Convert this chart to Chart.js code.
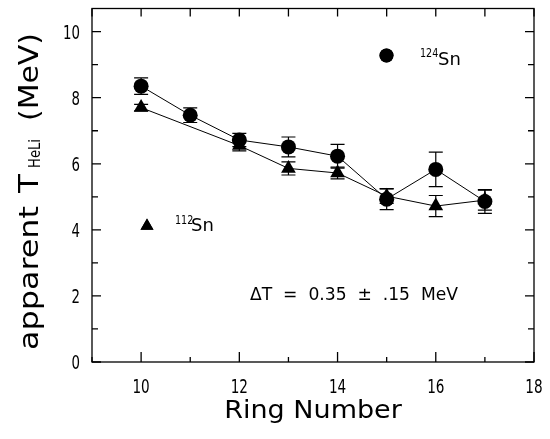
<!DOCTYPE html>
<html>
<head>
<meta charset="utf-8">
<script src="https://cdn.jsdelivr.net/npm/chart.js@4"></script>
<style>
  html, body { margin: 0; padding: 0; background: #fff; }
  #wrap { width: 550px; height: 439px; }
</style>
</head>
<body>
<div id="wrap"><canvas id="chart" width="550" height="439"></canvas></div>
<script>
// ring numbers and apparent HeLi temperatures (MeV)
const rings124 = [10, 11, 12, 13, 14, 15, 16, 17];
const temp124 = [8.35, 7.47, 6.72, 6.51, 6.23, 4.93, 5.83, 4.86];
const err124 = [0.25, 0.22, 0.2, 0.3, 0.36, 0.32, 0.52, 0.36];

const rings112 = [10, 12, 13, 14, 15, 16, 17];
const temp112 = [7.7, 6.55, 5.86, 5.72, 5.02, 4.72, 4.9];
const err112 = [0.1, 0.16, 0.2, 0.18, 0.22, 0.32, 0.3];

const xTicks = [9, 10, 11, 12, 13, 14, 15, 16, 17, 18];
const xLabels = [10, 12, 14, 16, 18];
const yTicks = [0, 1, 2, 3, 4, 5, 6, 7, 8, 9, 10];
const yLabels = [0, 2, 4, 6, 8, 10];

const FONT = "'DejaVu Sans', sans-serif";

function pts(xs, ys) {
    return xs.map((x, i) => ({ x: x, y: ys[i] }));
}

// draw text at a given size, squeezed/stretched horizontally by sx
function txt(ctx, s, x, y, size, sx, align) {
    ctx.save();
    ctx.font = size + 'px ' + FONT;
    const w = ctx.measureText(s).width * sx;
    let x0 = x;
    if (align === 'center') x0 = x - w / 2;
    else if (align === 'right') x0 = x - w;
    ctx.translate(x0, y);
    ctx.scale(sx, 1);
    ctx.textAlign = 'left';
    ctx.textBaseline = 'alphabetic';
    ctx.fillText(s, 0, 0);
    ctx.restore();
    return w;
}

// same, but stretched to fill a given width
function fitTxt(ctx, s, x, y, size, width) {
    ctx.font = size + 'px ' + FONT;
    const sx = width / ctx.measureText(s).width;
    return txt(ctx, s, x, y, size, sx, 'left');
}

// vertical error bars with caps, under the markers
const errorBars = {
    id: 'errorBars',
    beforeDatasetsDraw(chart) {
        const ctx = chart.ctx;
        const xs = chart.scales.x, ys = chart.scales.y;
        const sets = [[rings124, temp124, err124], [rings112, temp112, err112]];
        ctx.save();
        ctx.strokeStyle = '#000';
        ctx.lineWidth = 1.2;
        sets.forEach(([rx, vy, ey]) => {
            rx.forEach((r, i) => {
                const px = xs.getPixelForValue(r);
                const top = ys.getPixelForValue(vy[i] + ey[i]);
                const bot = ys.getPixelForValue(vy[i] - ey[i]);
                ctx.beginPath();
                ctx.moveTo(px, top); ctx.lineTo(px, bot);
                ctx.moveTo(px - 7, top); ctx.lineTo(px + 7, top);
                ctx.moveTo(px - 7, bot); ctx.lineTo(px + 7, bot);
                ctx.stroke();
            });
        });
        ctx.restore();
    }
};

// frame with inward ticks on all four sides, tick labels and annotations
const frame = {
    id: 'frame',
    afterDraw(chart) {
        const ctx = chart.ctx;
        const a = chart.chartArea;
        const xs = chart.scales.x, ys = chart.scales.y;
        ctx.save();
        ctx.strokeStyle = '#000';
        ctx.fillStyle = '#000';
        ctx.lineWidth = 1.3;
        ctx.strokeRect(a.left, a.top, a.right - a.left, a.bottom - a.top);

        ctx.beginPath();
        xTicks.forEach(v => {
            const px = xs.getPixelForValue(v);
            const len = v % 2 === 0 ? 10 : 5;
            ctx.moveTo(px, a.bottom); ctx.lineTo(px, a.bottom - len);
            ctx.moveTo(px, a.top); ctx.lineTo(px, a.top + 8);
        });
        yTicks.forEach(v => {
            const py = ys.getPixelForValue(v);
            const len = v % 2 === 0 ? 9 : 6;
            ctx.moveTo(a.left, py); ctx.lineTo(a.left + len, py);
            ctx.moveTo(a.right, py); ctx.lineTo(a.right - len, py);
        });
        ctx.stroke();

        // tick labels, narrow digits
        xLabels.forEach(v => {
            txt(ctx, String(v), xs.getPixelForValue(v), a.bottom + 31, 20, 0.68, 'center');
        });
        yLabels.forEach(v => {
            txt(ctx, String(v), a.left - 12, ys.getPixelForValue(v) + 7, 19, 0.7, 'right');
        });

        // legend
        Chart.helpers.drawPoint(ctx, { pointStyle: 'circle', radius: 7, rotation: 0, borderWidth: 0 }, 386.5, 55.5);
        ctx.fill();
        Chart.helpers.drawPoint(ctx, { pointStyle: 'triangle', radius: 7.5, rotation: 0, borderWidth: 0 }, 147, 226);
        ctx.fill();

        txt(ctx, '124', 420, 57, 12, 0.8, 'left');
        txt(ctx, 'Sn', 438, 65, 18, 1.0, 'left');
        txt(ctx, '112', 175, 224, 12, 0.8, 'left');
        txt(ctx, 'Sn', 191, 231, 18, 1.0, 'left');

        fitTxt(ctx, '\u0394T  =  0.35  \u00b1  .15  MeV', 250, 300, 18, 208);

        // axis titles
        txt(ctx, 'Ring Number', 313, 418, 25, 1.08, 'center');

        ctx.translate(38, 350);
        ctx.rotate(-Math.PI / 2);
        fitTxt(ctx, 'apparent', 0, 0, 27, 144);
        fitTxt(ctx, 'T', 157, 0, 27, 19);
        fitTxt(ctx, 'HeLi', 182, 2, 15, 29);
        fitTxt(ctx, '(MeV)', 229, 0, 27, 88);
        ctx.restore();
    }
};

new Chart(document.getElementById('chart'), {
    type: 'scatter',
    data: {
        datasets: [
            {
                label: '124Sn',
                data: pts(rings124, temp124),
                showLine: true,
                borderColor: '#000',
                borderWidth: 1,
                backgroundColor: '#000',
                pointStyle: 'circle',
                pointRadius: 7.5,
                pointBorderWidth: 0
            },
            {
                label: '112Sn',
                data: pts(rings112, temp112),
                showLine: true,
                borderColor: '#000',
                borderWidth: 1,
                backgroundColor: '#000',
                pointStyle: 'triangle',
                pointRadius: 8.5,
                pointBorderWidth: 0
            }
        ]
    },
    options: {
        responsive: false,
        animation: false,
        layout: { padding: { left: 0, right: 16, top: 7, bottom: 0 } },
        plugins: { legend: { display: false }, tooltip: { enabled: false } },
        scales: {
            x: {
                type: 'linear',
                min: 9, max: 18,
                grid: { display: false },
                border: { display: false },
                ticks: { display: false },
                afterFit: s => { s.height = 77; }
            },
            y: {
                min: 0, max: 10.7,
                grid: { display: false },
                border: { display: false },
                ticks: { display: false },
                afterFit: s => { s.width = 92; }
            }
        }
    },
    plugins: [errorBars, frame]
});
</script>
</body>
</html>
